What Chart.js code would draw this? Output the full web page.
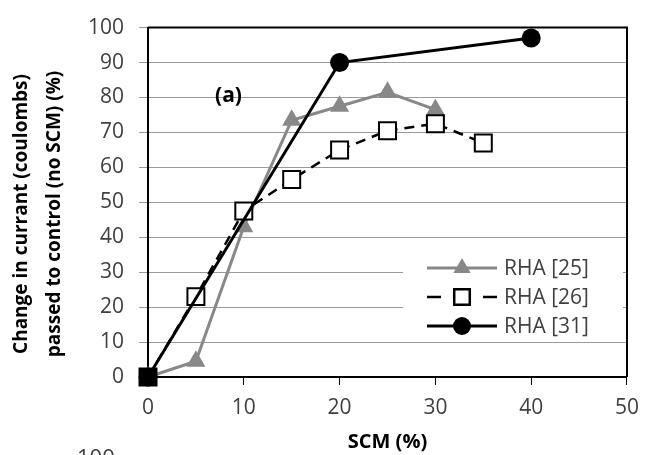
<!DOCTYPE html>
<html>
<head>
<meta charset="utf-8">
<script src="https://cdn.jsdelivr.net/npm/chart.js@4"></script>
<style>
  html, body { margin: 0; padding: 0; background: #fff; overflow: hidden; }
  #wrap { position: relative; width: 649px; height: 455px; }
  #next { position: absolute; left: 77px; top: 445px; font: 22px "Open Sans"; color: #404040; line-height: 22px; }
</style>
</head>
<body>
<div id="wrap">
  <canvas id="chart" width="649" height="455"></canvas>
  <div id="next">100</div>
</div>
<script>
// SCM replacement level (%)
const scm25 = [0, 5, 10, 15, 20, 25, 30];
const rha25 = [0, 4.5, 43, 73.5, 77.5, 81.5, 76.5];

const scm26 = [0, 5, 10, 15, 20, 25, 30, 35];
const rha26 = [0, 23, 47.5, 56.5, 65, 70.5, 72.5, 67];

const scm31 = [0, 20, 40];
const rha31 = [0, 90, 97];

const seriesNames = ["RHA [25]", "RHA [26]", "RHA [31]"];
const xTicks = [0, 10, 20, 30, 40, 50];
const yTicks = [0, 10, 20, 30, 40, 50, 60, 70, 80, 90, 100];
const yTitle = ["Change in currant (coulombs)", "passed to control (no SCM) (%)"];
const xTitle = "SCM (%)";
const panelLabel = "(a)";

const toXY = (xs, ys) => xs.map((x, i) => ({ x: x, y: ys[i] }));

const FONT = '"Open Sans", "DejaVu Sans", sans-serif';

const decorations = {
  id: 'decorations',
  beforeDatasetsDraw(chart) {
    const { ctx, chartArea: a } = chart;
    ctx.save();
    ctx.strokeStyle = '#000';
    ctx.lineWidth = 2;
    ctx.beginPath();
    ctx.moveTo(a.left, a.top);
    ctx.lineTo(a.right, a.top);
    ctx.lineTo(a.right, a.bottom);
    ctx.stroke();
    ctx.restore();
  },
  afterDatasetsDraw(chart) {
    const { ctx, scales } = chart;
    ctx.save();

    // y axis title, two lines, rotated
    ctx.fillStyle = '#000';
    ctx.font = 'bold 19px ' + FONT;
    ctx.textAlign = 'center';
    ctx.textBaseline = 'middle';
    ctx.translate(22, 214);
    ctx.rotate(-Math.PI / 2);
    yTitle.forEach((t, i) => ctx.fillText(t, 0, i * 33));
    ctx.setTransform(1, 0, 0, 1, 0, 0);

    // panel label
    ctx.font = 'bold 21px ' + FONT;
    ctx.fillText(panelLabel, scales.x.getPixelForValue(8.4), scales.y.getPixelForValue(80.5));

    // legend
    const bx = 403, by = 250, bw = 220, bh = 90;
    ctx.fillStyle = '#fff';
    ctx.fillRect(bx, by, bw, bh);
    ctx.font = '21px ' + FONT;
    ctx.textAlign = 'left';
    const rows = [268, 297, 326];
    chart.data.datasets.forEach((ds, i) => {
      const y = rows[i];
      ctx.strokeStyle = ds.borderColor;
      ctx.lineWidth = ds.borderWidth;
      ctx.setLineDash(ds.borderDash && ds.borderDash.length ? [14, 14] : []);
      ctx.beginPath();
      ctx.moveTo(427, y);
      ctx.lineTo(497, y);
      ctx.stroke();
      ctx.setLineDash([]);
      ctx.fillStyle = ds.legendFill;
      ctx.strokeStyle = ds.pointBorderColor;
      Chart.helpers.drawPoint(ctx, {
        pointStyle: ds.pointStyle,
        radius: ds.legendRadius,
        rotation: 0,
        borderWidth: ds.pointBorderWidth
      }, 462, y);
      ctx.fillStyle = '#404040';
      ctx.fillText(ds.label, 504, y + 1);
    });
    ctx.restore();
  }
};

new Chart(document.getElementById('chart'), {
  type: 'scatter',
  data: {
    datasets: [
      {
        label: seriesNames[0],
        data: toXY(scm25, rha25),
        showLine: true,
        clip: false,
        borderColor: '#888888',
        backgroundColor: '#888888',
        borderWidth: 3,
        pointStyle: 'triangle',
        pointRadius: 11,
        pointBorderWidth: 0,
        pointBorderColor: '#888888',
        pointBackgroundColor: '#888888',
        legendFill: '#888888',
        legendRadius: 10,
        order: 3
      },
      {
        label: seriesNames[1],
        data: toXY(scm26, rha26),
        showLine: true,
        clip: false,
        borderColor: '#000',
        borderWidth: 2.5,
        borderDash: [10, 7],
        pointStyle: 'rect',
        pointRadius: 12,
        pointBorderWidth: 2,
        pointBorderColor: '#000',
        pointBackgroundColor: c => c.dataIndex === 0 ? '#000' : '#fff',
        legendFill: '#fff',
        legendRadius: 11,
        order: 2
      },
      {
        label: seriesNames[2],
        data: toXY(scm31, rha31),
        showLine: true,
        clip: false,
        borderColor: '#000',
        borderWidth: 3,
        pointStyle: 'circle',
        pointRadius: 9.5,
        pointBorderWidth: 0,
        pointBorderColor: '#000',
        pointBackgroundColor: '#000',
        legendFill: '#000',
        legendRadius: 9,
        order: 1
      }
    ]
  },
  options: {
    responsive: false,
    animation: false,
    layout: { padding: { top: 19, right: 16, left: 0, bottom: 0 } },
    plugins: {
      legend: { display: false },
      tooltip: { enabled: false }
    },
    scales: {
      x: {
        type: 'linear',
        min: 0,
        max: 50,
        afterBuildTicks: s => { s.ticks = xTicks.map(v => ({ value: v })); },
        afterFit: s => { s.height = 78; },
        grid: { drawOnChartArea: false, drawTicks: true, tickLength: 8, color: '#000', lineWidth: 1 },
        border: { color: '#000', width: 2 },
        ticks: { color: '#404040', font: { family: FONT, size: 21 }, padding: 10, maxRotation: 0 },
        title: { display: true, text: xTitle, color: '#000', font: { family: FONT, size: 20, weight: 'bold' }, padding: { top: 0, bottom: 1 } }
      },
      y: {
        type: 'linear',
        min: 0,
        max: 100,
        afterBuildTicks: s => { s.ticks = yTicks.map(v => ({ value: v })); },
        afterFit: s => { s.width = 148; },
        grid: { color: '#9a9a9a', lineWidth: 1, tickLength: 9 },
        border: { color: '#000', width: 2 },
        ticks: { color: '#404040', font: { family: FONT, size: 21 }, padding: 15 }
      }
    }
  },
  plugins: [decorations]
});
</script>
</body>
</html>
